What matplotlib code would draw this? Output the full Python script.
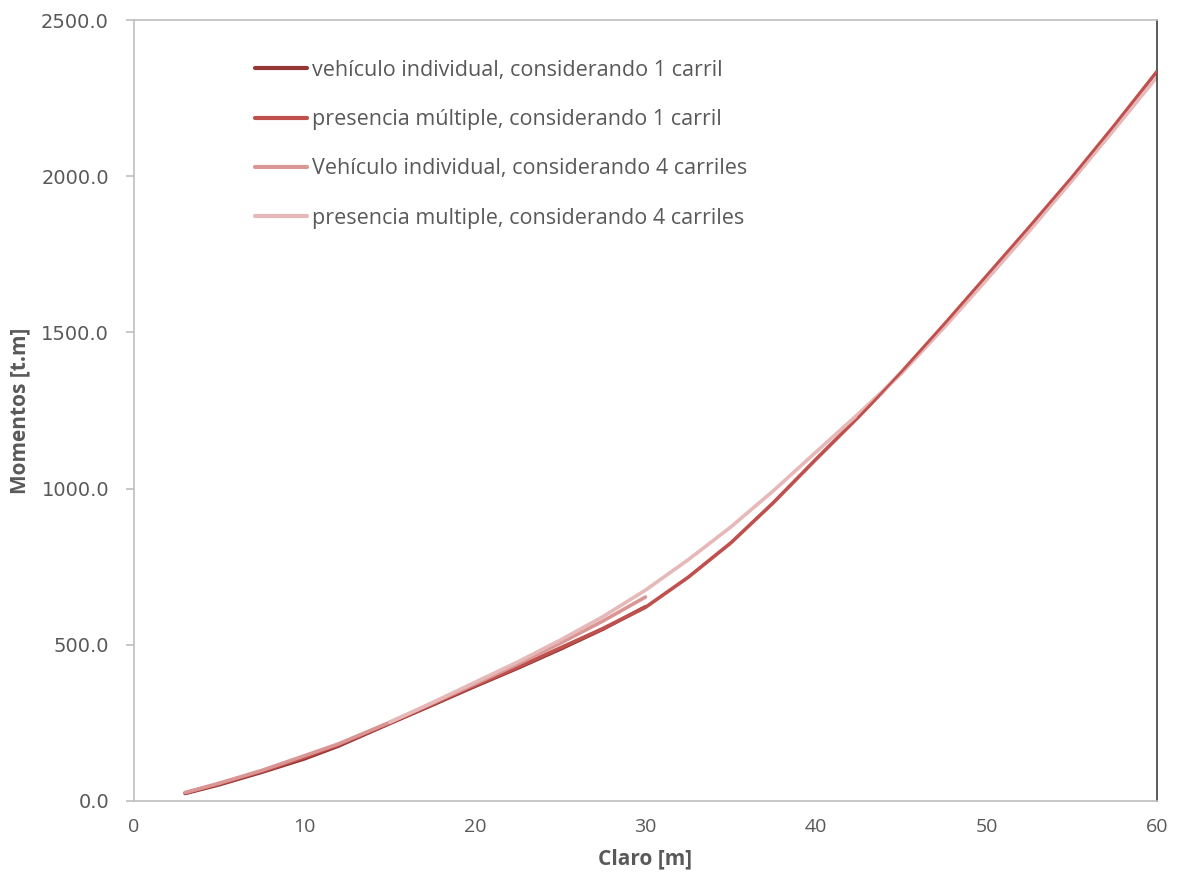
import matplotlib
matplotlib.use("Agg")
import matplotlib.pyplot as plt
from matplotlib.ticker import FormatStrFormatter

# claro [m] y momentos [t.m]
claro_1c = [3, 5, 7.5, 10, 12, 15, 17.5, 20, 22.5, 25, 27.5, 30]
vi_1c = [24, 52, 92, 135, 176, 248, 307, 367, 425, 486, 550, 622]

claro_pm1 = [3, 5, 7.5, 10, 12, 15, 17.5, 20, 22.5, 25, 27.5, 30, 32.5, 35, 37.5, 40,
             42.5, 45, 47.5, 50, 52.5, 55, 57.5, 60]
pm_1c = [26, 55, 95, 140, 180, 250, 310, 370, 428, 490, 552, 620, 716, 826, 955, 1094,
         1230, 1372, 1524, 1680, 1836, 1995, 2162, 2335]

claro_4c = [3, 5, 7.5, 10, 12, 15, 17.5, 20, 22.5, 25, 27.5, 30]
vi_4c = [27, 57, 98, 145, 183, 252, 313, 375, 438, 505, 576, 653]

claro_pm4 = [15, 17.5, 20, 22.5, 25, 27.5, 30, 32.5, 35, 37.5, 40, 42.5, 45, 47.5,
             50, 52.5, 55, 57.5, 60]
pm_4c = [252, 315, 380, 445, 515, 590, 675, 772, 877, 993, 1117, 1240, 1368, 1515,
         1668, 1824, 1985, 2150, 2318]

labels = ["vehículo individual, considerando 1 carril",
          "presencia múltiple, considerando 1 carril",
          "Vehículo individual, considerando 4 carriles",
          "presencia multiple, considerando 4 carriles"]
colores = ["#943634", "#C0504D", "#D99694", "#E6B9B8"]

gris = "#595959"
narrow = ["Liberation Sans Narrow", "Open Sans", "DejaVu Sans"]

fig = plt.figure(figsize=(11.77, 8.84), dpi=100)
ax = fig.add_axes([134/1177, 1-801/884, (1157-134)/1177, (801-20)/884])

lw = 2.6
ax.plot(claro_1c, vi_1c, color=colores[0], lw=lw, label=labels[0], solid_capstyle="round")
ax.plot(claro_pm1, pm_1c, color=colores[1], lw=lw, label=labels[1], solid_capstyle="round")
ax.plot(claro_4c, vi_4c, color=colores[2], lw=lw, label=labels[2], solid_capstyle="round")
ax.plot(claro_pm4, pm_4c, color=colores[3], lw=lw, label=labels[3], solid_capstyle="round")
# la roja queda encima en el tramo largo
ax.plot(claro_pm1[16:], pm_1c[16:], color=colores[1], lw=1.6, zorder=3)

ax.set_xlim(0, 60)
ax.set_ylim(0, 2500)
ax.set_xticks(range(0, 61, 10))
ax.set_yticks(range(0, 2501, 500))
ax.yaxis.set_major_formatter(FormatStrFormatter("%.1f"))

for s in ["left", "bottom", "top"]:
    ax.spines[s].set_color("#BFBFBF")
    ax.spines[s].set_linewidth(1.2)
ax.spines["right"].set_color("#404040")
ax.spines["right"].set_linewidth(1.2)

ax.tick_params(axis="y", length=6, color="#BFBFBF", width=1.2, pad=12, labelcolor=gris, labelsize=14)
ax.tick_params(axis="x", length=0, pad=12, labelcolor=gris, labelsize=14)
for t in ax.get_xticklabels():
    t.set_family(narrow)

ax.set_xlabel("Claro [m]", family=narrow, fontsize=15, fontweight="bold", color=gris, labelpad=9)
ax.set_ylabel("Momentos [t.m]", family=narrow, fontsize=15, fontweight="bold", color=gris, labelpad=8)

leg = ax.legend(loc="upper left", bbox_to_anchor=(255/1177, 1-60/884), bbox_transform=fig.transFigure,
                frameon=False, handlelength=2.4, handletextpad=0.25,
                labelspacing=1.31, borderpad=0, borderaxespad=0,
                prop={"family": "Open Sans", "size": 15.5})
for t in leg.get_texts():
    t.set_color(gris)
for h in leg.get_lines():
    h.set_linewidth(3)

fig.savefig("out.png", dpi=100)
